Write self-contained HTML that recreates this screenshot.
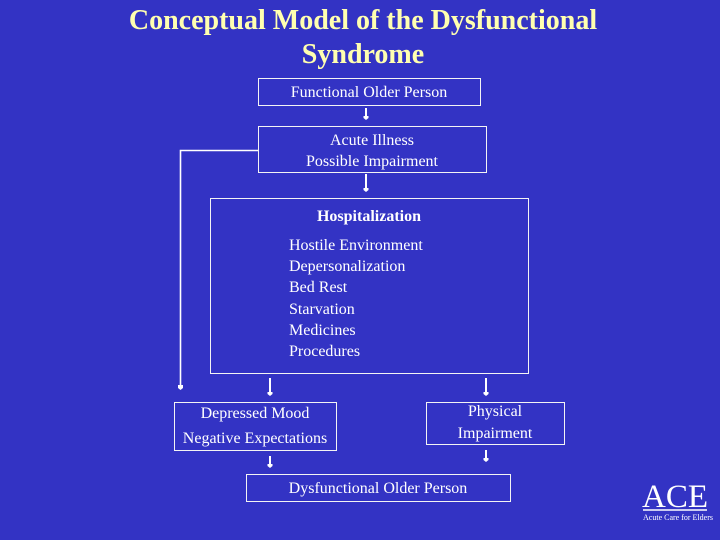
<!DOCTYPE html>
<html><head><meta charset="utf-8"><style>
html,body{margin:0;padding:0;background:#3333c4}
svg{display:block}
text{font-family:"Liberation Serif",serif;fill:#fff;font-size:16px;text-anchor:middle}
.l{text-anchor:start}
.t{fill:#ffffb0;font-size:28px;font-weight:bold}
rect{fill:none;stroke:#f4f4f4;stroke-width:1}
line{stroke:#fff;stroke-width:2}
polygon{fill:#fff}
</style></head><body>
<svg width="720" height="540" viewBox="0 0 720 540" xmlns="http://www.w3.org/2000/svg">
<rect x="0" y="0" width="720" height="540" style="fill:#3333c4;stroke:none"/>
<text class="t" x="363" y="29">Conceptual Model of the Dysfunctional</text>
<text class="t" x="363" y="63">Syndrome</text>
<rect x="258.500" y="78.500" width="222" height="27"/>
<text x="369" y="97">Functional Older Person</text>
<rect x="258.500" y="126.500" width="228" height="46"/>
<text x="372" y="145">Acute Illness</text>
<text x="372" y="166">Possible Impairment</text>
<rect x="210.500" y="198.500" width="318" height="175"/>
<text x="369" y="221" style="font-weight:bold">Hospitalization</text>
<text class="l" x="289" y="250">Hostile Environment</text>
<text class="l" x="289" y="271">Depersonalization</text>
<text class="l" x="289" y="292">Bed Rest</text>
<text class="l" x="289" y="314">Starvation</text>
<text class="l" x="289" y="335">Medicines</text>
<text class="l" x="289" y="356">Procedures</text>
<rect x="174.500" y="402.500" width="162" height="48"/>
<text x="255" y="418">Depressed Mood</text>
<text x="255" y="443">Negative Expectations</text>
<rect x="426.500" y="402.500" width="138" height="42"/>
<text x="495" y="416">Physical</text>
<text x="495" y="438">Impairment</text>
<rect x="246.500" y="474.500" width="264" height="27"/>
<text x="378" y="493">Dysfunctional Older Person</text>
<polyline points="258,150.500 180.500,150.500 180.500,386" style="fill:none;stroke:#fff;stroke-width:1.600"/>
<polygon points="178,385 183,385 183,388 180.500,390 178,388"/>
<line x1="366" y1="108" x2="366" y2="116"/><polygon points="363.500,116 368.500,116 368.500,118 366,120 363.500,118"/>
<line x1="366" y1="174" x2="366" y2="188"/><polygon points="363.500,188 368.500,188 368.500,190 366,192 363.500,190"/>
<line x1="270" y1="378" x2="270" y2="392"/><polygon points="267.500,392 272.500,392 272.500,394 270,396 267.500,394"/>
<line x1="486" y1="378" x2="486" y2="392"/><polygon points="483.500,392 488.500,392 488.500,394 486,396 483.500,394"/>
<line x1="270" y1="456" x2="270" y2="464"/><polygon points="267.500,464 272.500,464 272.500,466 270,468 267.500,466"/>
<line x1="486" y1="450" x2="486" y2="458"/><polygon points="483.500,458 488.500,458 488.500,460 486,462 483.500,460"/>
<text x="675" y="507" style="font-size:33px">ACE</text>
<line x1="643" y1="510" x2="707" y2="510" style="stroke-width:1.500"/>
<text x="678" y="520" style="font-size:8px">Acute Care for Elders</text>
</svg>
</body></html>
